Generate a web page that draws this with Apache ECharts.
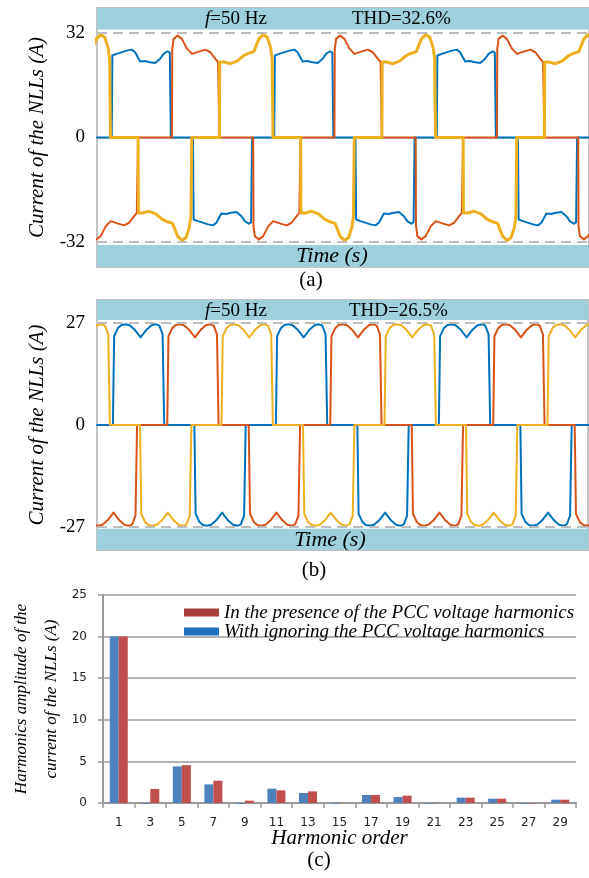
<!DOCTYPE html>
<html><head><meta charset="utf-8">
<script src="https://cdn.jsdelivr.net/npm/echarts@6/dist/echarts.min.js"></script>
<style>html,body{margin:0;padding:0;background:#fff}#c{width:589px;height:878px}</style>
</head><body><div id="c"></div>
<script>
// ---------- Panel (a): currents [time (ms), current (A)] ----------
const blueA = [[0,0],
[1.81,0],[1.89,25.1],[2.43,25.6],[3.66,26.6],[4.28,26.9],[4.69,26.1],[5.31,23.3],[5.93,23.4],[6.34,23.1],[7.16,22.8],[7.78,24.1],[8.19,25.6],[8.68,26.4],[8.96,26.0],[9.09,0],
[11.81,0],[11.89,-25.1],[12.43,-25.6],[13.66,-26.6],[14.28,-26.9],[14.69,-26.1],[15.31,-23.3],[15.93,-23.4],[16.34,-23.1],[17.16,-22.8],[17.78,-24.1],[18.19,-25.6],[18.68,-26.4],[18.96,-26.0],[19.09,0],
[21.81,0],[21.89,25.1],[22.43,25.6],[23.66,26.6],[24.28,26.9],[24.69,26.1],[25.31,23.3],[25.93,23.4],[26.34,23.1],[27.16,22.8],[27.78,24.1],[28.19,25.6],[28.68,26.4],[28.96,26.0],[29.09,0],
[31.81,0],[31.89,-25.1],[32.43,-25.6],[33.66,-26.6],[34.28,-26.9],[34.69,-26.1],[35.31,-23.3],[35.93,-23.4],[36.34,-23.1],[37.16,-22.8],[37.78,-24.1],[38.19,-25.6],[38.68,-26.4],[38.96,-26.0],[39.09,0],
[41.81,0],[41.89,25.1],[42.43,25.6],[43.66,26.6],[44.28,26.9],[44.69,26.1],[45.31,23.3],[45.93,23.4],[46.34,23.1],[47.16,22.8],[47.78,24.1],[48.19,25.6],[48.68,26.4],[48.96,26.0],[49.09,0],
[51.81,0],[51.89,-25.1],[52.43,-25.6],[53.66,-26.6],[54.28,-26.9],[54.69,-26.1],[55.31,-23.3],[55.93,-23.4],[56.34,-23.1],[57.16,-22.8],[57.78,-24.1],[58.19,-25.6],[58.68,-26.4],[58.96,-26.0],[59.09,0],[60.6,0]];

const redA = [
[-0.78,0],[-0.74,-27.0],[-0.58,-30.2],[-0.08,-31.2],[0.45,-30.2],[1.07,-27.2],[1.69,-25.6],[2.51,-26.3],[3.33,-26.9],[3.95,-26.1],[4.57,-24.1],[4.9,-23.1],[5.06,0],
[9.22,0],[9.26,27.0],[9.42,30.2],[9.92,31.2],[10.45,30.2],[11.07,27.2],[11.69,25.6],[12.51,26.3],[13.33,26.9],[13.95,26.1],[14.57,24.1],[14.9,23.1],[15.06,0],
[19.22,0],[19.26,-27.0],[19.42,-30.2],[19.92,-31.2],[20.45,-30.2],[21.07,-27.2],[21.69,-25.6],[22.51,-26.3],[23.33,-26.9],[23.95,-26.1],[24.57,-24.1],[24.9,-23.1],[25.06,0],
[29.22,0],[29.26,27.0],[29.42,30.2],[29.92,31.2],[30.45,30.2],[31.07,27.2],[31.69,25.6],[32.51,26.3],[33.33,26.9],[33.95,26.1],[34.57,24.1],[34.9,23.1],[35.06,0],
[39.22,0],[39.26,-27.0],[39.42,-30.2],[39.92,-31.2],[40.45,-30.2],[41.07,-27.2],[41.69,-25.6],[42.51,-26.3],[43.33,-26.9],[43.95,-26.1],[44.57,-24.1],[44.9,-23.1],[45.06,0],
[49.22,0],[49.26,27.0],[49.42,30.2],[49.92,31.2],[50.45,30.2],[51.07,27.2],[51.69,25.6],[52.51,26.3],[53.33,26.9],[53.95,26.1],[54.57,24.1],[54.9,23.1],[55.06,0],
[59.22,0],[59.26,-27.0],[59.42,-30.2],[59.92,-31.2],[60.45,-30.2],[61.07,-27.2]];

const yellowA = [
[-1.9,25.1],[-1.32,25.8],[-0.7,26.3],[-0.08,30.2],[0.45,31.5],[0.95,30.7],[1.36,27.6],[1.56,24],[1.66,0],
[5.06,0],[5.1,-23.1],[5.6,-23.1],[6.42,-22.6],[7.24,-23.4],[8.06,-25.1],[8.68,-25.8],[9.3,-26.3],[9.92,-30.2],[10.45,-31.5],[10.95,-30.7],[11.36,-27.6],[11.56,-24],[11.66,0],
[15.06,0],[15.1,23.1],[15.6,23.1],[16.42,22.6],[17.24,23.4],[18.06,25.1],[18.68,25.8],[19.3,26.3],[19.92,30.2],[20.45,31.5],[20.95,30.7],[21.36,27.6],[21.56,24],[21.66,0],
[25.06,0],[25.1,-23.1],[25.6,-23.1],[26.42,-22.6],[27.24,-23.4],[28.06,-25.1],[28.68,-25.8],[29.3,-26.3],[29.92,-30.2],[30.45,-31.5],[30.95,-30.7],[31.36,-27.6],[31.56,-24],[31.66,0],
[35.06,0],[35.1,23.1],[35.6,23.1],[36.42,22.6],[37.24,23.4],[38.06,25.1],[38.68,25.8],[39.3,26.3],[39.92,30.2],[40.45,31.5],[40.95,30.7],[41.36,27.6],[41.56,24],[41.66,0],
[45.06,0],[45.1,-23.1],[45.6,-23.1],[46.42,-22.6],[47.24,-23.4],[48.06,-25.1],[48.68,-25.8],[49.3,-26.3],[49.92,-30.2],[50.45,-31.5],[50.95,-30.7],[51.36,-27.6],[51.56,-24],[51.66,0],
[55.06,0],[55.1,23.1],[55.6,23.1],[56.42,22.6],[57.24,23.4],[58.06,25.1],[58.68,25.8],[59.3,26.3],[59.92,30.2],[60.45,31.5],[60.95,30.7]];

// ---------- Panel (b): currents [time (ms), current (A)] ----------
const blueB = [[0,0],
[1.95,0],[2.1,23.5],[2.55,25.6],[3.0,26.5],[3.5,26.7],[4.0,26.4],[4.6,25.3],[5.35,23.2],[6.1,25.3],[6.7,26.4],[7.2,26.7],[7.65,26.3],[8.05,24.0],[8.25,0],
[11.95,0],[12.1,-23.5],[12.55,-25.6],[13.0,-26.5],[13.5,-26.7],[14.0,-26.4],[14.6,-25.3],[15.35,-23.2],[16.1,-25.3],[16.7,-26.4],[17.2,-26.7],[17.65,-26.3],[18.05,-24.0],[18.25,0],
[21.95,0],[22.1,23.5],[22.55,25.6],[23.0,26.5],[23.5,26.7],[24.0,26.4],[24.6,25.3],[25.35,23.2],[26.1,25.3],[26.7,26.4],[27.2,26.7],[27.65,26.3],[28.05,24.0],[28.25,0],
[31.95,0],[32.1,-23.5],[32.55,-25.6],[33.0,-26.5],[33.5,-26.7],[34.0,-26.4],[34.6,-25.3],[35.35,-23.2],[36.1,-25.3],[36.7,-26.4],[37.2,-26.7],[37.65,-26.3],[38.05,-24.0],[38.25,0],
[41.95,0],[42.1,23.5],[42.55,25.6],[43.0,26.5],[43.5,26.7],[44.0,26.4],[44.6,25.3],[45.35,23.2],[46.1,25.3],[46.7,26.4],[47.2,26.7],[47.65,26.3],[48.05,24.0],[48.25,0],
[51.95,0],[52.1,-23.5],[52.55,-25.6],[53.0,-26.5],[53.5,-26.7],[54.0,-26.4],[54.6,-25.3],[55.35,-23.2],[56.1,-25.3],[56.7,-26.4],[57.2,-26.7],[57.65,-26.3],[58.05,-24.0],[58.25,0],[60.3,0]];

const redB = [
[-1.38,0],[-1.23,-23.5],[-0.78,-25.6],[-0.33,-26.5],[0.17,-26.7],[0.67,-26.4],[1.27,-25.3],[2.02,-23.2],[2.77,-25.3],[3.37,-26.4],[3.87,-26.7],[4.32,-26.3],[4.72,-24.0],[4.92,0],
[8.62,0],[8.77,23.5],[9.22,25.6],[9.67,26.5],[10.17,26.7],[10.67,26.4],[11.27,25.3],[12.02,23.2],[12.77,25.3],[13.37,26.4],[13.87,26.7],[14.32,26.3],[14.72,24.0],[14.92,0],
[18.62,0],[18.77,-23.5],[19.22,-25.6],[19.67,-26.5],[20.17,-26.7],[20.67,-26.4],[21.27,-25.3],[22.02,-23.2],[22.77,-25.3],[23.37,-26.4],[23.87,-26.7],[24.32,-26.3],[24.72,-24.0],[24.92,0],
[28.62,0],[28.77,23.5],[29.22,25.6],[29.67,26.5],[30.17,26.7],[30.67,26.4],[31.27,25.3],[32.02,23.2],[32.77,25.3],[33.37,26.4],[33.87,26.7],[34.32,26.3],[34.72,24.0],[34.92,0],
[38.62,0],[38.77,-23.5],[39.22,-25.6],[39.67,-26.5],[40.17,-26.7],[40.67,-26.4],[41.27,-25.3],[42.02,-23.2],[42.77,-25.3],[43.37,-26.4],[43.87,-26.7],[44.32,-26.3],[44.72,-24.0],[44.92,0],
[48.62,0],[48.77,23.5],[49.22,25.6],[49.67,26.5],[50.17,26.7],[50.67,26.4],[51.27,25.3],[52.02,23.2],[52.77,25.3],[53.37,26.4],[53.87,26.7],[54.32,26.3],[54.72,24.0],[54.92,0],
[58.62,0],[58.77,-23.5],[59.22,-25.6],[59.67,-26.5],[60.17,-26.7],[60.67,-26.4]];

const yellowB = [
[-2.07,25.3],[-1.32,23.2],[-0.57,25.3],[0.03,26.4],[0.53,26.7],[0.98,26.3],[1.38,24.0],[1.58,0],
[5.28,0],[5.43,-23.5],[5.88,-25.6],[6.33,-26.5],[6.83,-26.7],[7.33,-26.4],[7.93,-25.3],[8.68,-23.2],[9.43,-25.3],[10.03,-26.4],[10.53,-26.7],[10.98,-26.3],[11.38,-24.0],[11.58,0],
[15.28,0],[15.43,23.5],[15.88,25.6],[16.33,26.5],[16.83,26.7],[17.33,26.4],[17.93,25.3],[18.68,23.2],[19.43,25.3],[20.03,26.4],[20.53,26.7],[20.98,26.3],[21.38,24.0],[21.58,0],
[25.28,0],[25.43,-23.5],[25.88,-25.6],[26.33,-26.5],[26.83,-26.7],[27.33,-26.4],[27.93,-25.3],[28.68,-23.2],[29.43,-25.3],[30.03,-26.4],[30.53,-26.7],[30.98,-26.3],[31.38,-24.0],[31.58,0],
[35.28,0],[35.43,23.5],[35.88,25.6],[36.33,26.5],[36.83,26.7],[37.33,26.4],[37.93,25.3],[38.68,23.2],[39.43,25.3],[40.03,26.4],[40.53,26.7],[40.98,26.3],[41.38,24.0],[41.58,0],
[45.28,0],[45.43,-23.5],[45.88,-25.6],[46.33,-26.5],[46.83,-26.7],[47.33,-26.4],[47.93,-25.3],[48.68,-23.2],[49.43,-25.3],[50.03,-26.4],[50.53,-26.7],[50.98,-26.3],[51.38,-24.0],[51.58,0],
[55.28,0],[55.43,23.5],[55.88,25.6],[56.33,26.5],[56.83,26.7],[57.33,26.4],[57.93,25.3],[58.68,23.2],[59.43,25.3],[60.03,26.4],[60.53,26.7]];

const ticksA = [-32, 0, 32];
const ticksB = [-27, 0, 27];

// ---------- Panel (c): harmonic amplitudes ----------
const harmonicOrders = ['1','3','5','7','9','11','13','15','17','19','21','23','25','27','29'];
const ignoringPCC = [20, -0.1, 4.4, 2.24, -0.1, 1.72, 1.2, -0.08, 0.96, 0.72, -0.08, 0.64, 0.52, -0.08, 0.4];
const presencePCC = [20, 1.68, 4.55, 2.68, 0.28, 1.52, 1.4, 0.02, 0.96, 0.88, 0.02, 0.64, 0.52, -0.05, 0.4];
const nameIgnoring = 'With ignoring the PCC voltage harmonics';
const namePresence = 'In the presence of the PCC voltage harmonics';

// ---------- chart ----------
const SERIF = 'Liberation Serif';
const C_BLUE = '#0072BD', C_RED = '#D95319', C_YEL = '#EDB120';
const CYAN = '#9dd0dc', GRAY = '#c4c4c4', DASH = '#bcbcbc';

const chart = echarts.init(document.getElementById('c'), null, {renderer:'canvas', width:589, height:878});

function wave(name, data, color, width, idx, extra) {
  return Object.assign({
    type:'line', name, data, xAxisIndex:idx, yAxisIndex:idx,
    showSymbol:false, symbol:'none', silent:true, z:3,
    lineStyle:{color, width, cap:'round', join:'round'}, itemStyle:{color}
  }, extra || {});
}
function decor(levels, bandTop, bandBot, yMax) {
  return {
    markArea:{silent:true, itemStyle:{color:CYAN}, data:[[{yAxis:bandTop},{yAxis:yMax}],[{yAxis:-yMax},{yAxis:bandBot}]]},
    markLine:{silent:true, symbol:['none','none'], label:{show:false}, lineStyle:{color:DASH, width:2, type:[10,6]},
      data: levels.filter(v => v !== 0).map(v => ({yAxis:v}))}
  };
}
function timeAxis(idx, max) {
  return {type:'value', gridIndex:idx, min:0, max,
    axisLine:{show:true, onZero:true, lineStyle:{color:GRAY, width:2}},
    axisTick:{show:false}, axisLabel:{show:false}, splitLine:{show:false}};
}
function currentAxis(idx, lim, ticks) {
  return {type:'value', gridIndex:idx, min:-lim, max:lim,
    axisLine:{show:false}, axisTick:{show:false}, splitLine:{show:false},
    axisLabel:{customValues:ticks, fontFamily:SERIF, fontSize:19, color:'#000', margin:12},
    name:'Current of the NLLs (A)', nameLocation:'middle', nameGap:49, nameMoveOverlap:false,
    nameTextStyle:{fontFamily:SERIF, fontStyle:'italic', fontSize:21, color:'#000'}};
}
function txt(x, y, text, size, align, italicAll) {
  return {type:'text', x, y, z:100, silent:true, style:{
    text, fill:'#000', fontFamily:SERIF, fontSize:size, fontStyle: italicAll ? 'italic' : 'normal',
    align: align, verticalAlign:'middle',
    rich:{i:{fontFamily:SERIF, fontSize:size, fontStyle:'italic', fill:'#000'}, n:{fontFamily:SERIF, fontSize:size, fill:'#000'}}
  }};
}

const option = {
  animation:false,
  backgroundColor:'#fff',
  grid:[
    {left:97, right:0, top:8, height:259, show:true, borderColor:GRAY, borderWidth:2, outerBoundsMode:'none', containLabel:false},
    {left:97, right:1, top:300, height:250, show:true, borderColor:GRAY, borderWidth:2, outerBoundsMode:'none', containLabel:false},
    {left:103, right:13, top:595, height:208, outerBoundsMode:'none', containLabel:false}
  ],
  xAxis:[
    timeAxis(0, 60.55),
    timeAxis(1, 60.25),
    {type:'category', gridIndex:2, data:harmonicOrders,
      axisLine:{show:true, lineStyle:{color:'#9a9a9a', width:2}},
      axisTick:{show:true, length:5, lineStyle:{color:'#9a9a9a', width:1.5}},
      axisLabel:{fontFamily:'DejaVu Sans', fontSize:12, color:'#222', margin:14},
      name:'Harmonic order', nameLocation:'middle', nameGap:25, nameMoveOverlap:false,
      nameTextStyle:{fontFamily:SERIF, fontStyle:'italic', fontSize:21, color:'#000'}}
  ],
  yAxis:[
    currentAxis(0, 39.65, ticksA),
    currentAxis(1, 33.1, ticksB),
    {type:'value', gridIndex:2, min:0, max:25, interval:5,
      axisLine:{show:true, lineStyle:{color:'#9a9a9a', width:2}},
      axisTick:{show:true, length:5, lineStyle:{color:'#9a9a9a', width:1.5}},
      splitLine:{show:true, lineStyle:{color:'#9a9a9a', width:1.5}},
      axisLabel:{fontFamily:'DejaVu Sans', fontSize:12, color:'#222', margin:16},
      name:'Harmonics amplitude of the\ncurrent of the NLLs (A)', nameLocation:'middle', nameGap:36, nameMoveOverlap:false,
      nameTextStyle:{fontFamily:SERIF, fontStyle:'italic', fontSize:17, lineHeight:30, color:'#000'}}
  ],
  legend:{orient:'vertical', left:179, top:598, itemWidth:35, itemHeight:8, itemGap:0, icon:'rect',
    textStyle:{fontFamily:SERIF, fontStyle:'italic', fontSize:19, color:'#000'},
    data:[{name:namePresence, itemStyle:{color:'#a8403c'}}, {name:nameIgnoring, itemStyle:{color:'#2070c0'}}]},
  series:[
    wave('ia_a', blueA, C_BLUE, 2, 0, decor(ticksA, 33.07, -32.9, 39.65)),
    wave('ib_a', redA, C_RED, 2, 0),
    wave('ic_a', yellowA, C_YEL, 3, 0),
    wave('ia_b', blueB, C_BLUE, 2, 1, decor(ticksB, 27.8, -27.5, 33.1)),
    wave('ib_b', redB, C_RED, 2, 1),
    wave('ic_b', yellowB, C_YEL, 2, 1),
    {type:'bar', name:nameIgnoring, xAxisIndex:2, yAxisIndex:2, data:ignoringPCC, barWidth:9, barGap:'0%', clip:false, itemStyle:{color:'#4F81BD'}},
    {type:'bar', name:namePresence, xAxisIndex:2, yAxisIndex:2, data:presencePCC, barWidth:9, barGap:'0%', clip:false, itemStyle:{color:'#C0504D'}}
  ],
  graphic:[
    txt(205, 19, '{i|f}{n|=50 Hz}', 19, 'left'),
    txt(352, 19, 'THD=32.6%', 19, 'left'),
    txt(332, 256, 'Time (s)', 22, 'center', true),
    txt(311, 280, '(a)', 21, 'center'),
    txt(205, 311, '{i|f}{n|=50 Hz}', 19, 'left'),
    txt(349, 311, 'THD=26.5%', 19, 'left'),
    txt(330, 540, 'Time (s)', 22, 'center', true),
    txt(314, 570, '(b)', 21, 'center'),
    txt(319, 860, '(c)', 21, 'center')
  ]
};
chart.setOption(option);
</script>
</body></html>
